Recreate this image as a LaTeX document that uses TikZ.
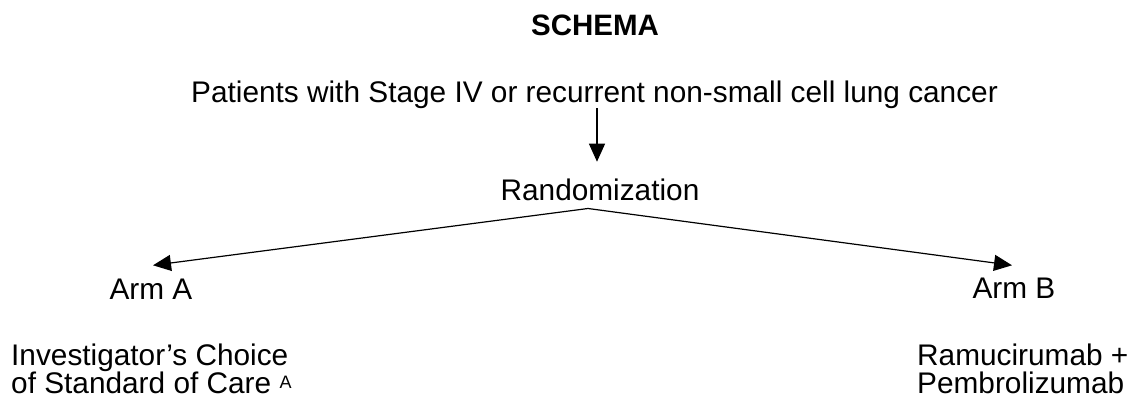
\documentclass[tikz,border=0pt]{standalone}
\usepackage{fontspec}
\setmainfont{Liberation Sans}
\usetikzlibrary{arrows.meta}
\begin{document}
\begin{tikzpicture}[x=1pt,y=-1pt,
  txt/.style={inner sep=0pt, font=\fontsize{29.8}{30}\selectfont},
  ttl/.style={inner sep=0pt, font=\bfseries\fontsize{29.5}{30}\selectfont},
  arr/.style={-{Triangle[length=18pt,width=16pt]}, line width=1.2pt}]
\useasboundingbox (0,0) rectangle (1128,402);
\node[ttl, anchor=base] (title) at (595,35) {SCHEMA};
\node[txt, anchor=base] (pat) at (594.5,102) {Patients with Stage IV or recurrent non-small cell lung cancer};
\node[txt, anchor=base] (rnd) at (600,200) {Randomization};
\node[txt, anchor=base] (armA) at (151,299) {Arm A};
\node[txt, anchor=base] (armB) at (1014,298) {Arm B};
\node[txt, anchor=base west] (inv1) at (11,365) {Investigator’s Choice};
\node[txt, anchor=base west] (inv2) at (11,393) {of Standard of Care \raisebox{5pt}{\fontsize{18}{18}\selectfont A}};
\node[txt, anchor=base west] (ram1) at (917,365) {Ramucirumab +};
\node[txt, anchor=base west] (ram2) at (917,393) {Pembrolizumab};
\coordinate (split) at ([xshift=-12pt,yshift=-8pt]rnd.south);
\draw[arr] ([xshift=2.5pt]pat.south) -- ([xshift=-3pt,yshift=16.5pt]rnd.north);
\draw[arr] (split) -- ([xshift=2pt,yshift=13pt]armA.north);
\draw[arr] (split) -- ([xshift=-2pt,yshift=12pt]armB.north);
\end{tikzpicture}
\end{document}
